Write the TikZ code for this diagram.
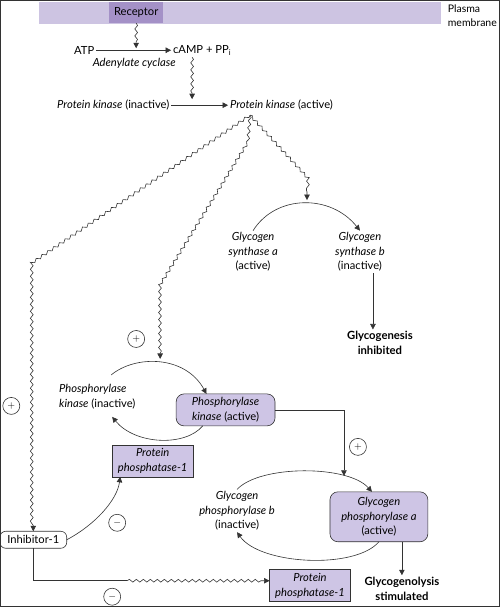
\documentclass[tikz,border=0pt]{standalone}
\usepackage{fontspec}
\setmainfont{Lato}
\usetikzlibrary{arrows.meta,decorations.pathmorphing}
\definecolor{membfill}{HTML}{CDC4E2}
\definecolor{recfill}{HTML}{A491C7}
\definecolor{enzfill}{HTML}{CEC5E5}
\tikzset{
  >={Triangle[width=5.5pt,length=5.5pt]},
  every path/.style={draw=black!80,line width=0.6pt},
  txt/.style={inner sep=0pt,outer sep=2pt,align=center,font=\fontsize{11.2}{14.5}\selectfont},
  bold/.style={txt,font=\fontsize{11.3}{14.5}\selectfont\bfseries},
  wavy/.style={decorate,decoration={snake,amplitude=1.4pt,segment length=7pt,post length=5.5pt}},
  sign/.style={circle,draw,inner sep=0pt,minimum size=17pt,font=\fontsize{10}{10}\selectfont},
  enzbox/.style={txt,draw,fill=enzfill,rounded corners=8pt,outer sep=0pt},
  ppbox/.style={txt,draw,fill=enzfill,minimum width=81pt,minimum height=32pt,outer sep=0pt},
}
\begin{document}
\begin{tikzpicture}[x=1pt,y=-1pt]
    \useasboundingbox (0,0) rectangle (499,607);
    %% Membrane
    \fill[membfill] (39,2) rectangle (440,23);
    \node[txt,fill=recfill,minimum width=54pt,minimum height=21pt,outer sep=0pt] (rec) at (136,12.5) {Receptor};
    \node[txt,anchor=north west,align=left,font=\fontsize{10.5}{14.5}\selectfont] (memb) at (446,2) {Plasma\\membrane};
    %% cAMP
    \node[txt] (atp) at (84,50) {ATP};
    \node[txt,anchor=west] (camp) at (171,50) {cAMP + PP\textsubscript{i}};
    \node[txt] (acyc) at (134,63) {\itshape Adenylate cyclase};
    \coordinate (c1) at (136,48);
    \draw[->] (atp) -- (camp);
    \draw[wavy,->] (rec.south -| c1) -- (c1);
    %% Protein kinase
    \node[txt,anchor=west] (pki) at (55,105) {\textit{Protein kinase} (inactive)};
    \node[txt,anchor=west] (pka) at (228,105) {\textit{Protein kinase} (active)};
    \coordinate (c2) at (192,99);
    \draw[->] (pki) -- (pka);
    \draw[wavy,->] (camp.south -| c2) -- (c2);
    %% Glycogen synthase
    \node[txt] (gsa) at (253,252) {\textit{Glycogen}\\\textit{synthase a}\\(active)};
    \node[txt] (gsb) at (360,252) {\textit{Glycogen}\\\textit{synthase b}\\(inactive)};
    \node[bold] (gen) at (380,343) {Glycogenesis\\inhibited};
    \coordinate (c3) at (307,200);
    \draw[->] (gsa.north) .. controls (276,194) and (331,194) .. (gsb.north);
    \draw[->] (gsb.south -| 373,0) -- (gen.north -| 373,0);
    %% Phosphorylase kinase
    \node[txt,anchor=west,align=left] (pkin) at (57,397) {\textit{Phosphorylase}\\\textit{kinase} (inactive)};
    \node[enzbox,minimum width=99pt,minimum height=32pt] (pkact) at (225.5,410) {\textit{Phosphorylase}\\\textit{kinase} (active)};
    \node[ppbox] (pp1a) at (152.5,461) {\textit{Protein}\\\textit{phosphatase-1}};
    \coordinate (c4) at (160,359);
    \draw[->] (111,375) .. controls (135,355) and (185,355) .. (pkact.140);
    \draw[->] (pkact.215) .. controls (185,447) and (135,445) .. (112,417);
    %% Glycogen phosphorylase
    \node[txt] (gpb) at (237,511) {\textit{Glycogen}\\\textit{phosphorylase b}\\(inactive)};
    \node[enzbox,minimum width=98pt,minimum height=50pt] (gpa) at (379,517) {\textit{Glycogen}\\\textit{phosphorylase a}\\(active)};
    \node[bold] (lys) at (402,589) {Glycogenolysis\\stimulated};
    \node[ppbox] (pp1b) at (310,586) {\textit{Protein}\\\textit{phosphatase-1}};
    \coordinate (c5) at (344,476);
    \draw[->] (gpb.north) .. controls (260,465) and (348,465) .. ([xshift=-7pt]gpa.north);
    \draw[->] (gpa.south) .. controls (355,570) and (260,565) .. (gpb.south);
    \draw[->] (gpa.south -| lys.north) -- (lys.north);
    \draw[->] (pkact.east) -| (c5);
    %% Inhibitor-1
    \node[txt,draw,rounded corners=6pt,minimum width=67pt,minimum height=17pt,outer sep=0pt] (inh) at (33,540) {Inhibitor-1};
    \coordinate (c6) at (127,581);
    \draw (inh.south) |- (c6);
    \draw[wavy,->] (c6) -- ([yshift=5pt]pp1b.west);
    \draw[->] (inh.east) .. controls (95,525) and (117,500) .. ([xshift=8pt]pp1a.south west);
    %% Protein kinase targets
    \coordinate (br) at (250,115);
    \draw[wavy,->] (br) -- (33,262) -- (inh.north);
    \draw[wavy,->] (br) -- (248,140) -- (160,283) -- (c4);
    \draw[wavy,->] (br) -- (307,177) -- (c3);
    %% Signs
    \node[sign] (p1) at (136,339) {$+$};
    \node[sign] (p2) at (11,406) {$+$};
    \node[sign] (p3) at (358,447) {$+$};
    \node[sign] (m1) at (117,523) {$-$};
    \node[sign] (m2) at (112,597) {$-$};
\end{tikzpicture}
\end{document}
